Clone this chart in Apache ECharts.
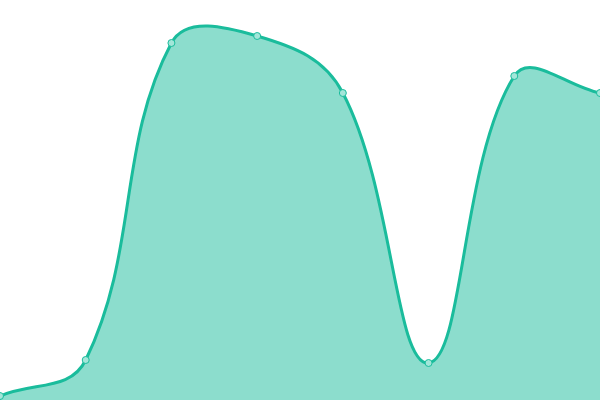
<!DOCTYPE html>
<html><head><meta charset="utf-8">
<script src="https://cdn.jsdelivr.net/npm/echarts@6/dist/echarts.min.js"></script>
<style>html,body{margin:0;padding:0;background:#fff}#c{width:600px;height:400px}</style>
</head><body><div id="c"></div>
<script>
const categories = ['A','B','C','D','E','F','G','H'];
const values = [4, 40, 357, 364, 307, 37, 324, 307];

const TENSION = 0.4;
function buildPaths(pts, bounds) {
  const cl = (v, a, b) => Math.max(a, Math.min(b, v));
  const cps = pts.map((p, i) => {
    const prev = pts[i - 1] || p, next = pts[i + 1] || p;
    const d01 = Math.hypot(p[0] - prev[0], p[1] - prev[1]);
    const d12 = Math.hypot(next[0] - p[0], next[1] - p[1]);
    let s01 = d01 / (d01 + d12), s12 = d12 / (d01 + d12);
    if (isNaN(s01)) s01 = 0; if (isNaN(s12)) s12 = 0;
    const fa = TENSION * s01, fb = TENSION * s12;
    const pc = [cl(p[0] - fa * (next[0] - prev[0]), bounds.x, bounds.x + bounds.width), cl(p[1] - fa * (next[1] - prev[1]), bounds.y, bounds.y + bounds.height)];
    const nc = [cl(p[0] + fb * (next[0] - prev[0]), bounds.x, bounds.x + bounds.width), cl(p[1] + fb * (next[1] - prev[1]), bounds.y, bounds.y + bounds.height)];
    return {prev: pc, next: nc};
  });
  let d = 'M' + pts[0][0] + ' ' + pts[0][1];
  for (let i = 1; i < pts.length; i++) {
    const a = cps[i - 1].next, b = cps[i].prev, p = pts[i];
    d += ' C' + a[0] + ' ' + a[1] + ' ' + b[0] + ' ' + b[1] + ' ' + p[0] + ' ' + p[1];
  }
  const bottom = bounds.y + bounds.height;
  const area = d + ' L' + pts[pts.length - 1][0] + ' ' + bottom + ' L' + pts[0][0] + ' ' + bottom + ' Z';
  return {line: d, area: area};
}

const chart = echarts.init(document.getElementById('c'));
chart.setOption({
  animation: false,
  grid: {left: 0, right: 0, top: 0, bottom: 0},
  xAxis: {type: 'category', data: categories, boundaryGap: false, show: false},
  yAxis: {type: 'value', min: 0, max: 400, show: false},
  series: [{
    type: 'custom',
    data: values.map((v, i) => [i, v]),
    encode: {x: 0, y: 1},
    z: 2,
    renderItem: function (params, api) {
      if (params.dataIndex !== 0) return null;
      const pts = values.map((v, i) => api.coord([i, v]));
      const cs = params.coordSys;
      const paths = buildPaths(pts, {x: cs.x, y: cs.y, width: cs.width, height: cs.height});
      return {
        type: 'group',
        children: [
          {type: 'path', shape: {pathData: paths.area}, style: {fill: 'rgba(26,188,156,0.5)', stroke: null}},
          {type: 'path', shape: {pathData: paths.line}, style: {fill: null, stroke: '#1abc9c', lineWidth: 3}}
        ]
      };
    }
  }, {
    type: 'line',
    data: values,
    z: 3,
    symbol: 'circle',
    symbolSize: 7,
    lineStyle: {opacity: 0},
    itemStyle: {color: '#a3e6d9', borderColor: '#1abc9c', borderWidth: 1}
  }]
});
</script></body></html>
